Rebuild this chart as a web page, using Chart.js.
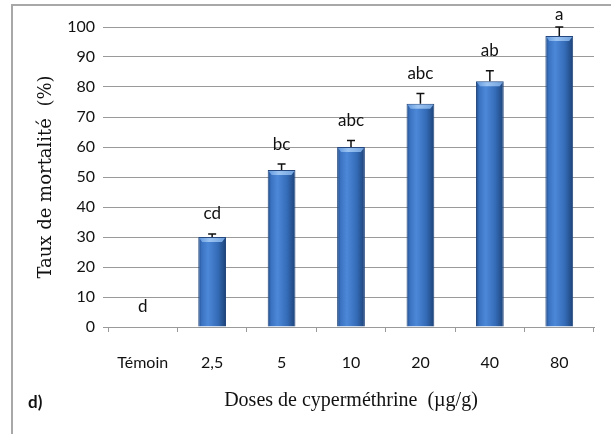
<!DOCTYPE html>
<html>
<head>
<meta charset="utf-8">
<script src="https://cdn.jsdelivr.net/npm/chart.js@4.4.0/dist/chart.umd.min.js"></script>
<style>
  html, body { margin: 0; padding: 0; background: #fff; }
  #wrap { position: relative; width: 611px; height: 434px; overflow: hidden; }
  #frame { position: absolute; left: 11px; top: 4px; width: 620px; height: 460px;
           border-left: 2px solid #a8a8a8; border-top: 2px solid #a8a8a8; }
  #chart { position: absolute; left: 0; top: 0; }
  #tag { position: absolute; left: 28px; top: 391px; font: bold 17px Lato, sans-serif; color: #111; }
</style>
</head>
<body>
<div id="wrap">
  <div id="frame"></div>
  <canvas id="chart" width="611" height="434"></canvas>
  <div id="tag">d)</div>
</div>
<script>
// doses and mean mortality (%) with error and significance letters
const categories = ['Témoin', '2,5', '5', '10', '20', '40', '80'];
const mortality = [0, 30, 52.3, 60, 74.4, 81.9, 97];
const errors = [0, 1, 2, 2.2, 3.4, 3.5, 3];
const letters = ['d', 'cd', 'bc', 'abc', 'abc', 'ab', 'a'];

const tickFont = { family: 'Lato, sans-serif', size: 16 };
const axisColor = '#9a9a9a';

function barGradient(ctx) {
  const chart = ctx.chart;
  const x = chart.scales.x;
  if (!chart.chartArea || !x) return '#3a70bf';
  const cx = x.getPixelForValue(ctx.dataIndex);
  const half = (x.width / categories.length) * 0.4 / 2;
  const g = chart.ctx.createLinearGradient(cx - half, 0, cx + half, 0);
  g.addColorStop(0, '#1f4a86');
  g.addColorStop(0.12, '#3a72c0');
  g.addColorStop(0.35, '#4c88d8');
  g.addColorStop(0.7, '#356cb8');
  g.addColorStop(1, '#1c4277');
  return g;
}

// error bars, bevel highlight and letters on top of the bars
const extrasPlugin = {
  id: 'extras',
  afterDatasetsDraw(chart) {
    const c = chart.ctx;
    const y = chart.scales.y;
    const meta = chart.getDatasetMeta(0);
    meta.data.forEach(function (bar, i) {
      const top = y.getPixelForValue(mortality[i] + errors[i]);
      if (mortality[i] > 0) {
        const w = bar.width;
        const hl = c.createLinearGradient(bar.x - w / 2, 0, bar.x + w / 2, 0);
        hl.addColorStop(0, '#5d95dc');
        hl.addColorStop(0.4, '#9cc4f2');
        hl.addColorStop(1, '#6e9fdc');
        c.save();
        c.fillStyle = hl;
        c.beginPath();
        c.moveTo(bar.x - w / 2 + 1, bar.y + 1);
        c.lineTo(bar.x + w / 2 - 1, bar.y + 1);
        c.lineTo(bar.x + w / 2 - 4, bar.y + 5);
        c.lineTo(bar.x - w / 2 + 4, bar.y + 5);
        c.closePath();
        c.fill();
        c.restore();

        c.save();
        c.strokeStyle = '#111';
        c.lineWidth = 1.5;
        c.beginPath();
        c.moveTo(bar.x, bar.y);
        c.lineTo(bar.x, top);
        c.moveTo(bar.x - 4, top);
        c.lineTo(bar.x + 4, top);
        c.stroke();
        c.restore();
      }
      c.save();
      c.fillStyle = '#111';
      c.font = '17px Lato, sans-serif';
      c.textAlign = 'center';
      c.textBaseline = 'middle';
      c.fillText(letters[i], bar.x, Math.max(15, top - 20));
      c.restore();
    });
  }
};

new Chart(document.getElementById('chart'), {
  type: 'bar',
  data: {
    labels: categories,
    datasets: [{
      data: mortality,
      backgroundColor: barGradient,
      borderColor: '#23477e',
      borderWidth: 1,
      barPercentage: 0.4,
      categoryPercentage: 1
    }]
  },
  options: {
    responsive: false,
    animation: false,
    layout: { padding: { left: 36, right: 17, top: 27, bottom: 21 } },
    plugins: { legend: { display: false }, tooltip: { enabled: false } },
    scales: {
      x: {
        offset: true,
        grid: { offset: true, drawOnChartArea: false, drawTicks: true, tickLength: 5, color: axisColor },
        border: { display: true, color: axisColor },
        ticks: { font: tickFont, color: '#111', padding: 21, maxRotation: 0 },
        title: {
          display: true,
          text: 'Doses de cyperméthrine  (µg/g)',
          font: { family: '"Liberation Serif", "Times New Roman", serif', size: 20 },
          color: '#111',
          padding: 0
        },
        afterFit: function (s) { s.height = 86; }
      },
      y: {
        min: 0,
        max: 100,
        grid: { color: axisColor, tickLength: 5, drawTicks: true },
        border: { display: false },
        ticks: { stepSize: 10, font: tickFont, color: '#111', padding: 8 },
        title: {
          display: true,
          text: 'Taux de mortalité  (%)',
          font: { family: '"DejaVu Serif", serif', size: 18 },
          color: '#111',
          padding: 0
        },
        afterFit: function (s) { s.width = 72; }
      }
    }
  },
  plugins: [extrasPlugin]
});
</script>
</body>
</html>
